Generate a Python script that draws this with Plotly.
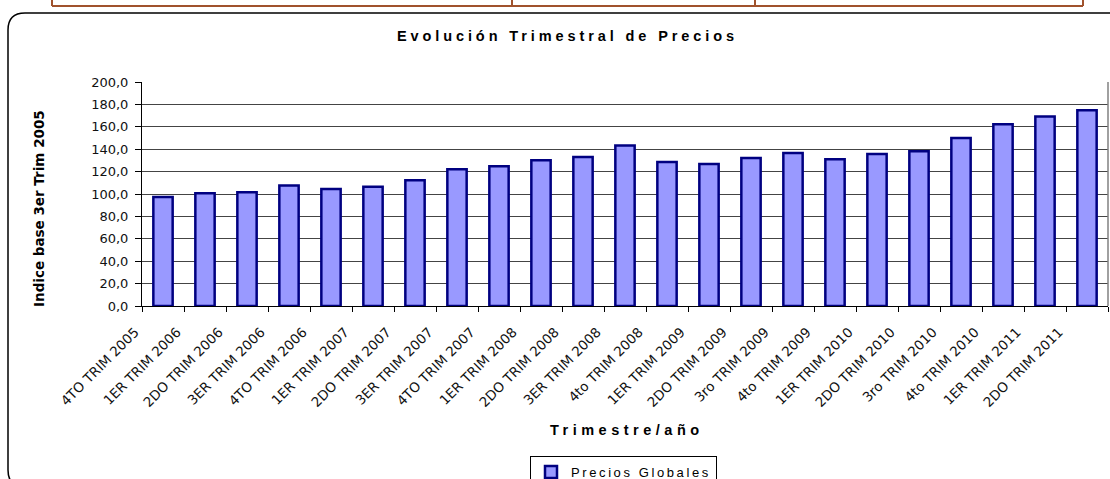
import plotly.graph_objects as go

categories = [
    "4TO TRIM 2005", "1ER TRIM 2006", "2DO TRIM 2006", "3ER TRIM 2006",
    "4TO TRIM 2006", "1ER TRIM 2007", "2DO TRIM 2007", "3ER TRIM 2007",
    "4TO TRIM 2007", "1ER TRIM 2008", "2DO TRIM 2008", "3ER TRIM 2008",
    "4to TRIM 2008", "1ER TRIM 2009", "2DO TRIM 2009", "3ro TRIM 2009",
    "4to TRIM 2009", "1ER TRIM 2010", "2DO TRIM 2010", "3ro TRIM 2010",
    "4to TRIM 2010", "1ER TRIM 2011", "2DO TRIM 2011",
]
precios_globales = [
    97.3, 100.6, 101.5, 107.7, 104.5, 106.5, 112.2, 122.0,
    124.7, 130.1, 133.0, 143.2, 128.6, 126.8, 132.1, 136.6,
    131.0, 135.7, 138.1, 150.0, 162.2, 169.3, 174.7,
]
series_name = "Precios Globales"
chart_title = "Evolución Trimestral de Precios"
x_title = "Trimestre/año"
y_title = "Indice base 3er Trim 2005"

W, H = 1110, 479
L, R, T, B = 142, 1108, 82, 306


def px(x):
    return (x - L) / (R - L)


def py(y):
    return (B - y) / (B - T)


def spaced(text, sp):
    return f'<span style="letter-spacing:{sp}px">{text}</span>'


fig = go.Figure()
fig.add_trace(go.Bar(
    x=categories,
    y=precios_globales,
    name=spaced(series_name, 2.6),
    marker=dict(color="#9999FF", line=dict(color="#000080", width=2.5)),
    width=0.46,
))

# rounded outer frame
x0, y0, x1, y1, r = 8, 13, 1125, 487, 17
path = (
    f"M {px(x0 + r)},{py(y0)} L {px(x1 - r)},{py(y0)} "
    f"Q {px(x1)},{py(y0)} {px(x1)},{py(y0 + r)} "
    f"L {px(x1)},{py(y1 - r)} Q {px(x1)},{py(y1)} {px(x1 - r)},{py(y1)} "
    f"L {px(x0 + r)},{py(y1)} Q {px(x0)},{py(y1)} {px(x0)},{py(y1 - r)} "
    f"L {px(x0)},{py(y0 + r)} Q {px(x0)},{py(y0)} {px(x0 + r)},{py(y0)} Z"
)
shapes = [
    dict(type="path", xref="paper", yref="paper", path=path,
         line=dict(color="black", width=1.5)),
    dict(type="line", xref="paper", yref="paper", x0=1, x1=1, y0=0, y1=1,
         line=dict(color="#808080", width=1.5)),
    dict(type="line", xref="paper", yref="paper", x0=px(52), x1=px(1083),
         y0=py(6), y1=py(6), line=dict(color="#A0522D", width=2)),
]
for xv in [52, 512, 755, 1083]:
    shapes.append(dict(type="line", xref="paper", yref="paper",
                       x0=px(xv), x1=px(xv), y0=py(-2), y1=py(6),
                       line=dict(color="#A0522D", width=2)))

annotations = [
    dict(text=spaced(f"<b>{chart_title}</b>", 3.9), xref="paper", yref="paper",
         x=px(567), y=py(36), showarrow=False, xanchor="center", yanchor="middle",
         font=dict(family="Liberation Sans, Arial", size=14.5, color="black")),
    dict(text=spaced(f"<b>{x_title}</b>", 4.5), xref="paper", yref="paper",
         x=px(627), y=py(430), showarrow=False, xanchor="center", yanchor="middle",
         font=dict(family="Liberation Sans, Arial", size=14.5, color="black")),
    dict(text=f"<b>{y_title}</b>", xref="paper", yref="paper",
         x=px(39), y=py(209), showarrow=False, xanchor="center", yanchor="middle",
         textangle=-90,
         font=dict(family="DejaVu Sans", size=13.5, color="black")),
]

fig.update_layout(
    width=W, height=H, autosize=False,
    margin=dict(l=L, r=W - R, t=T, b=H - B, pad=0, autoexpand=False),
    paper_bgcolor="white", plot_bgcolor="white",
    separators=",.",
    showlegend=True,
    legend=dict(x=px(530), y=py(456), xanchor="left", yanchor="top",
                bordercolor="black", borderwidth=1, bgcolor="white",
                itemwidth=30,
                font=dict(family="Liberation Sans, Arial", size=13, color="black")),
    shapes=shapes,
    annotations=annotations,
    bargap=0.54,
)
fig.update_xaxes(
    type="category", automargin=False,
    showline=True, linecolor="black", linewidth=1,
    ticks="outside", tickson="boundaries", ticklen=5, tickcolor="black",
    tickangle=-45, ticklabelshift=-28, ticklabelstandoff=12,
    tickfont=dict(family="DejaVu Sans", size=13.5, color="#111"),
    showgrid=False,
)
fig.update_yaxes(
    range=[0, 200], dtick=20, tickformat=".1f", automargin=False,
    showline=True, linecolor="black", linewidth=1,
    ticks="outside", ticklen=6, tickcolor="black", ticklabelstandoff=4,
    tickfont=dict(family="DejaVu Sans", size=13, color="#111"),
    showgrid=True, gridcolor="#444", gridwidth=1,
    zeroline=False,
)

post = (
    "document.body.style.margin='0';"
    "document.documentElement.style.overflow='hidden';"
    "document.body.style.overflow='hidden';"
)
fig.write_html("out.html", post_script=post, config={"displayModeBar": False})
